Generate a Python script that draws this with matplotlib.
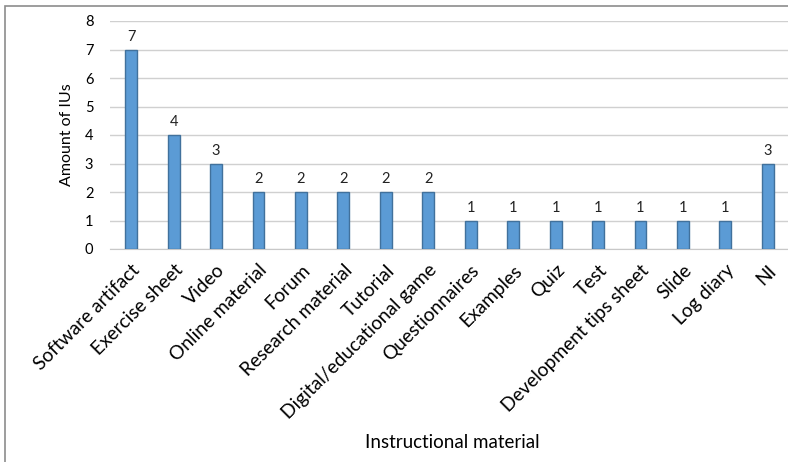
import matplotlib.pyplot as plt
from matplotlib.patches import Rectangle

categories = ["Software artifact", "Exercise sheet", "Video", "Online material", "Forum",
              "Research material", "Tutorial", "Digital/educational game", "Questionnaires",
              "Examples", "Quiz", "Test", "Development tips sheet", "Slide", "Log diary", "NI"]
counts = [7, 4, 3, 2, 2, 2, 2, 2, 1, 1, 1, 1, 1, 1, 1, 3]

plt.rcParams["font.family"] = ["Lato", "DejaVu Sans"]

fig = plt.figure(figsize=(7.88, 4.62), dpi=100)
ax = fig.add_axes([110 / 788, 1 - 249 / 462, 679 / 788, 228 / 462])

x = range(len(categories))
bars = ax.bar(x, counts, width=0.28, color="#5B9BD5", edgecolor="#41719C", linewidth=1.0, zorder=3)
for xi, v in zip(x, counts):
    ax.text(xi, v + 0.2, str(v), ha="center", va="bottom", fontsize=10.5, color="#222222")

ax.set_xlim(-0.5, len(categories) - 0.5)
ax.set_ylim(0, 8)
ax.set_yticks(range(0, 9))
ax.tick_params(axis="y", length=0, labelsize=10.5, pad=12)
ax.tick_params(axis="x", length=0, labelsize=13.8, pad=9)
ax.set_xticks(list(x))
ax.set_xticklabels(categories, rotation=45, ha="right", rotation_mode="anchor")
ax.grid(axis="y", color="#D0D0D0", linewidth=1.0, zorder=0)
for s in ["top", "right", "left"]:
    ax.spines[s].set_visible(False)
ax.spines["bottom"].set_color("#C8C8C8")

ax.set_ylabel("Amount of IUs", fontsize=11.5, labelpad=8)
fig.text(452 / 788, 1 - 442 / 462, "Instructional material", ha="center", va="center", fontsize=13.5)

# outer chart frame (cropped at right and bottom)
fig.patches.append(Rectangle((5 / 788, -0.1), 1.2, 1 - 6 / 462 + 0.1, transform=fig.transFigure,
                             fill=False, edgecolor="#8C8C8C", linewidth=1.2))

fig.savefig("out.png", dpi=100)
